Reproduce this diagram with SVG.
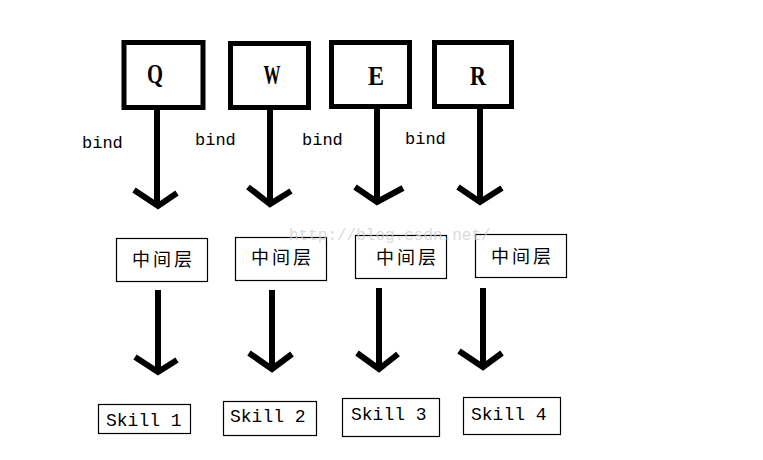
<svg xmlns="http://www.w3.org/2000/svg" width="763" height="460" viewBox="0 0 763 460">
<style>
.key{fill:#fff;stroke:#000;stroke-width:5}
.keyt{font-family:"Liberation Serif",serif;font-weight:bold;font-size:28px;fill:#000;text-anchor:middle}
.box{fill:#fff;stroke:#000;stroke-width:1.2}
.mid{font-family:"Noto Sans CJK SC",sans-serif;font-size:18px;fill:#000;letter-spacing:3px}
.sk{font-family:"Liberation Mono",monospace;font-size:18px;fill:#000}
.bind{font-family:"Liberation Mono",monospace;font-size:17px;fill:#000}
.arr{fill:none;stroke:#000;stroke-width:6;stroke-linejoin:miter}
.wm{font-family:"Liberation Mono",monospace;font-size:16px;fill:#d0d0d0;fill-opacity:0.8}
</style>
<rect width="763" height="460" fill="#fff"/>
<g id="connectors">
<path class="arr" d="M157,110 V205 M134,190 L158,206 L177,193"/>
<path class="arr" d="M270,110 V204 M248,187 L270,204 L291,191"/>
<path class="arr" d="M377,109 V202 M355,187 L377,202 L403,188"/>
<path class="arr" d="M480,109 V202 M458,187 L480,202 L502,188"/>
<path class="arr" d="M158,290 V372 M135,357 L158,372 L177,360"/>
<path class="arr" d="M272,290 V369 M249,353 L272,369 L292,354"/>
<path class="arr" d="M379,288 V369 M357,353 L379,369 L398,354"/>
<path class="arr" d="M483,288 V367 M459,351 L483,367 L502,353"/>
<text class="bind" x="82" y="148">bind</text>
<text class="bind" x="195" y="145">bind</text>
<text class="bind" x="302" y="145">bind</text>
<text class="bind" x="405" y="144">bind</text>
</g>
<g id="key-q"><rect class="key" x="124" y="42.5" width="79" height="65"/><text class="keyt" x="155" y="83" textLength="16" lengthAdjust="spacingAndGlyphs">Q</text></g>
<g id="key-w"><rect class="key" x="230.5" y="43.5" width="78" height="64"/><text class="keyt" x="272" y="84" textLength="17" lengthAdjust="spacingAndGlyphs">W</text></g>
<g id="key-e"><rect class="key" x="331.5" y="42.5" width="78" height="64"/><text class="keyt" x="376" y="85" textLength="16" lengthAdjust="spacingAndGlyphs">E</text></g>
<g id="key-r"><rect class="key" x="434.5" y="42.5" width="77" height="64"/><text class="keyt" x="478" y="85" textLength="16" lengthAdjust="spacingAndGlyphs">R</text></g>
<g id="mid-1"><rect class="box" x="116.5" y="238.5" width="91" height="43"/><text class="mid" x="132" y="266">中间层</text></g>
<g id="mid-2"><rect class="box" x="235.5" y="237.5" width="91" height="43"/><text class="mid" x="251" y="264">中间层</text></g>
<g id="mid-3"><rect class="box" x="355.5" y="235.5" width="91" height="43"/><text class="mid" x="376" y="264">中间层</text></g>
<g id="mid-4"><rect class="box" x="475.5" y="234.5" width="91" height="43"/><text class="mid" x="491" y="263">中间层</text></g>
<g id="skill-1"><rect class="box" x="98.5" y="404.5" width="92" height="29"/><text class="sk" x="106" y="426">Skill 1</text></g>
<g id="skill-2"><rect class="box" x="223.5" y="401.5" width="93" height="34"/><text class="sk" x="230" y="422">Skill 2</text></g>
<g id="skill-3"><rect class="box" x="342.5" y="398.5" width="97" height="38"/><text class="sk" x="351" y="420">Skill 3</text></g>
<g id="skill-4"><rect class="box" x="463.5" y="397.5" width="97" height="37"/><text class="sk" x="471" y="420">Skill 4</text></g>
<text class="wm" x="289" y="240">http://blog.csdn.net/</text>
</svg>
